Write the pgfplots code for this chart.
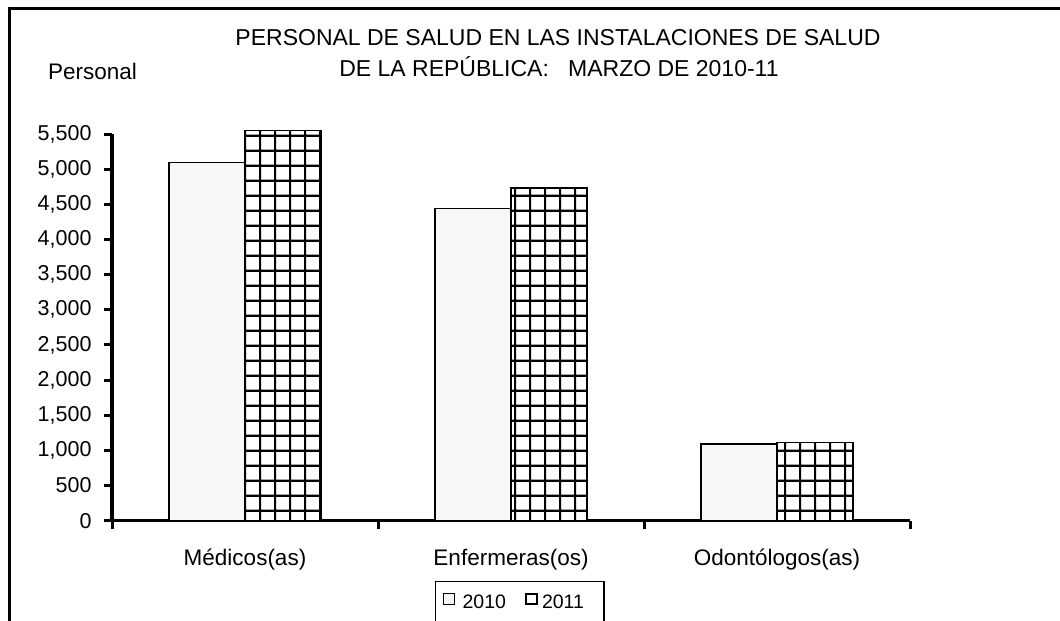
\documentclass[border=0pt]{standalone}
\usepackage{fontspec}
\setmainfont{Liberation Sans}
\usepackage{pgfplots}
\pgfplotsset{compat=1.18}
\usetikzlibrary{patterns.meta}

\pgfdeclarepattern{
  name=xlsgrid, type=uncolored,
  bottom left={\pgfpoint{0pt}{0pt}}, top right={\pgfpoint{14.6pt}{14.6pt}},
  tile size={\pgfpoint{14.6pt}{14.6pt}},
  code={
    \pgfsetlinewidth{2.2pt}
    \pgfpathmoveto{\pgfpoint{12.4pt}{-1pt}}\pgfpathlineto{\pgfpoint{12.4pt}{15.6pt}}
    \pgfpathmoveto{\pgfpoint{-1pt}{8.5pt}}\pgfpathlineto{\pgfpoint{15.6pt}{8.5pt}}
    \pgfusepath{stroke}
  }
}

\begin{document}
\begin{tikzpicture}
\useasboundingbox (0,0) rectangle (1060pt,621pt);
\draw[line width=3.5pt, line join=miter] (9.3pt,-5pt) -- (9.3pt,612.7pt) -- (1065pt,612.7pt);
\node[anchor=base, inner sep=0pt, font=\fontsize{23}{28}\selectfont] at (558pt,575.3pt) {PERSONAL DE SALUD EN LAS INSTALACIONES DE SALUD};
\node[anchor=base, inner sep=0pt, font=\fontsize{23}{28}\selectfont] at (559pt,544.3pt) {DE LA REPÚBLICA:\ \ \ MARZO DE 2010-11};
\node[anchor=base west, inner sep=0pt, font=\fontsize{22.5}{27}\selectfont] at (48pt,541.7pt) {Personal};

\begin{axis}[
  at={(112pt,100.3pt)}, anchor=south west,
  scale only axis, width=798pt, height=386.7pt,
  xmin=-0.5, xmax=2.5, ymin=0, ymax=5500,
  axis x line=bottom, axis y line=left,
  axis line style={line width=3.5pt, -},
  clip=false,
  ybar, bar width=76pt,
  xtick={-0.5,0.5,1.5,2.5}, xticklabels={},
  ytick={0,500,...,5500},
  tick align=outside,
  major tick length=8pt,
  tick style={black, line width=3pt},
  yticklabel={\pgfmathprintnumber[fixed,1000 sep={,},assume math mode=true]{\tick}},
  yticklabel style={font=\fontsize{21.5}{24}\selectfont, xshift=-9pt},
  legend style={at={(0.4048,-0.1552)}, anchor=north west, draw=black, line width=1.2pt,
    font=\fontsize{19.5}{22}\selectfont, legend columns=2,
    inner ysep=12.5pt, inner xsep=0pt,
    nodes={inner xsep=1pt, inner ysep=0pt, text depth=8pt},
    /tikz/every even column/.append style={column sep=0pt}},
]
\addplot[fill=gray!6, draw=black, line width=1.2pt, bar shift=-38pt,
  legend image code/.code={\pgfpathrectangle{\pgfpoint{0pt}{0pt}}{\pgfpoint{26pt}{12pt}}\pgfusepath{use as bounding box}\draw[line width=0.8pt, fill=gray!8] (8pt,1.5pt) rectangle (18.5pt,12pt);}]
  coordinates {(0,5100) (1,4445) (2,1090)};
\addplot[fill=white, draw=black, line width=1.4pt, bar shift=38pt,
  postaction={pattern=xlsgrid, draw=black, line width=1.4pt},
  legend image code/.code={\pgfpathrectangle{\pgfpoint{0pt}{0pt}}{\pgfpoint{34pt}{12pt}}\pgfusepath{use as bounding box}%
    \pgfsetlinewidth{2pt}\pgfsetstrokecolor{black}\pgfsetfillcolor{white}%
    \pgfpathrectangle{\pgfpoint{19pt}{1.5pt}}{\pgfpoint{10.5pt}{10.5pt}}\pgfusepath{fill,stroke}}]
  coordinates {(0,5550) (1,4730) (2,1108)};
\legend{2010,\makebox[61pt][l]{2011}}
\node[anchor=base, yshift=-44.3pt, font=\fontsize{22.5}{27}\selectfont] at (axis cs:0,0) {Médicos(as)};
\node[anchor=base, yshift=-44.3pt, font=\fontsize{22.5}{27}\selectfont] at (axis cs:1,0) {Enfermeras(os)};
\node[anchor=base, yshift=-44.3pt, font=\fontsize{22.5}{27}\selectfont] at (axis cs:2,0) {Odontólogos(as)};
\end{axis}
\end{tikzpicture}
\end{document}
